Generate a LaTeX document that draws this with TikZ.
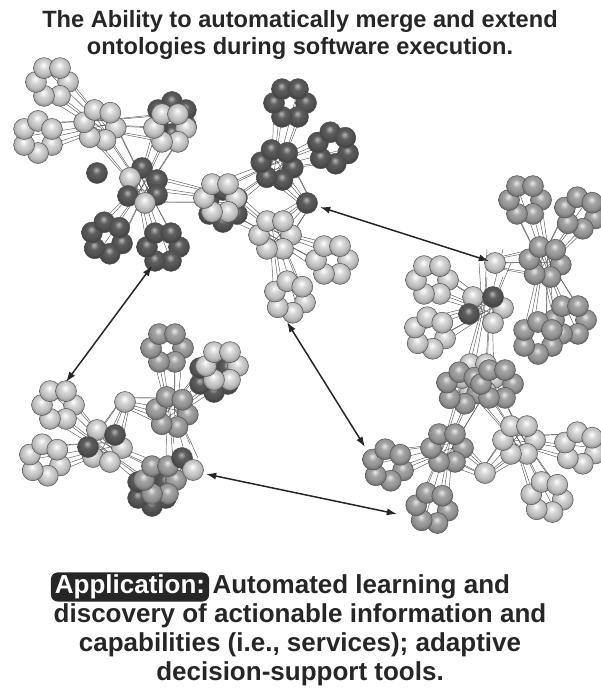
\documentclass[tikz,border=0pt]{standalone}
\usepackage{fontspec}
\setmainfont{Liberation Sans}
\usetikzlibrary{arrows.meta,calc,positioning}
\definecolor{OntoInk}{HTML}{262626}
\definecolor{OntoEdge}{HTML}{555555}
\definecolor{OntoLink}{HTML}{5A5A5A}
\definecolor{OntoLight}{HTML}{D6D6D6}
\definecolor{OntoMid}{HTML}{A4A4A4}
\definecolor{OntoDark}{HTML}{5E5E5E}
\pgfdeclareradialshading{orbLight}{\pgfpoint{-2bp}{8bp}}{color(0bp)=(white);
  color(10bp)=(OntoLight); color(20bp)=(OntoLight!88!black); color(26bp)=(OntoLight!72!black);
  color(50bp)=(OntoLight!72!black)}
\pgfdeclareradialshading{orbMid}{\pgfpoint{-2bp}{8bp}}{color(0bp)=(OntoMid!25!white);
  color(10bp)=(OntoMid); color(20bp)=(OntoMid!88!black); color(26bp)=(OntoMid!70!black);
  color(50bp)=(OntoMid!70!black)}
\pgfdeclareradialshading{orbDark}{\pgfpoint{-2bp}{8bp}}{color(0bp)=(OntoDark!45!white);
  color(10bp)=(OntoDark); color(20bp)=(OntoDark!85!black); color(26bp)=(OntoDark!70!black);
  color(50bp)=(OntoDark!70!black)}
\tikzset{
  >=Latex,
  orb/.style={draw=OntoEdge,line width=0.5pt},
  link/.style={draw=OntoLink,line width=0.45pt},
  merge/.style={{Latex[length=3.6mm,width=2.5mm]}-{Latex[length=3.6mm,width=2.5mm]},
    line width=1.5pt,draw=OntoInk},
  headline/.style={font=\bfseries\fontsize{23.6}{27}\selectfont,text=OntoInk,align=center},
  tagbox/.style={fill=OntoInk,text=white,rounded corners=7pt,inner xsep=4pt,inner ysep=2.5pt,
    font=\bfseries\fontsize{26}{29}\selectfont},
  bodytext/.style={font=\bfseries\fontsize{26}{29}\selectfont,text=OntoInk,align=center,inner sep=0pt}
}
\newcommand\orbradius{10.5}
\newcommand\ringradius{16}

\begin{document}
\begin{tikzpicture}[x=1pt,y=-1pt]
  \useasboundingbox (0,0) rectangle (600,695);

  % ring centres and hub spheres
  \foreach \n/\x/\y in {a1/52/82, a2/38/137, a3/100/125, a4/170/128, a4d/172/118, a5/107/238,
      a6/163/247, hA/142/188, a7/220/198, a7d/223/206, a8/277/165, a9/290/103, a10/333/148,
      pA/307/203, a11/275/235, a12/332/260, a13/290/297,
      b1/525/200, b2/580/213, b3/545/262, hB/495/263, cB/487/308, b4/432/280, b5/430/333,
      b6/570/320, b7/538/338,
      c1/478/378, c1a/462/388, c1b/497/384, c2/447/448, c3/388/465, c4/432/508, hC/485/473,
      c5/519/440, c6/580/448, c7/547/497,
      d1/167/348, d2/222/366, d2d/214/376, d3/172/412, hD/125/402, cD/105/447, d4/58/405,
      d5/45/460, dd/182/458, d6/160/480, d6d/152/490}
    \coordinate (\n) at (\x,\y);

  % links between rings
  \foreach \r/\h in {a1/a3, a2/a3, a3/hA, a4/a3, a4/hA, a5/hA, a6/hA, hA/a7, a7/a8, a7/a11,
      a9/a8, a10/a8, a8/pA, a11/pA, a12/a11, a13/a11,
      b1/b3, b2/b3, b3/hB, b6/b3, b7/b3, hB/cB, b4/cB, b5/cB, c1/cB,
      c1/c2, c1/c5, c3/c2, c4/c2, c2/hC, c5/hC, c6/c5, c7/c5,
      d1/d3, d2/d3, d3/hD, cD/hD, d4/cD, d5/cD, dd/d3, d6/cD, d6/dd}
    \foreach \k in {0,...,5}
      \draw[link] ($(\r)+(60*\k:\ringradius)$) -- ($(\h)+(60*\k:5)$);

  % rings of spheres
  \foreach \r/\c/\s in {a1/orbLight/0, a2/orbLight/30, a3/orbLight/10, a4d/orbDark/30,
      a4/orbLight/0, a5/orbDark/20, a6/orbDark/0, a7d/orbDark/30, a7/orbLight/0,
      a9/orbDark/0, a10/orbDark/20, a8/orbDark/10, a12/orbLight/0, a13/orbLight/20,
      a11/orbLight/0,
      b1/orbMid/0, b2/orbMid/20, b3/orbMid/10, b4/orbLight/0, b5/orbLight/20,
      b6/orbMid/0, b7/orbMid/30,
      c1/orbLight/0, c1a/orbMid/20, c1b/orbMid/0, c2/orbMid/0, c3/orbMid/20,
      c4/orbMid/10, c5/orbLight/0, c6/orbLight/20, c7/orbLight/10,
      d1/orbMid/0, d2d/orbDark/30, d2/orbLight/0, d3/orbMid/10, d4/orbLight/0,
      d5/orbLight/20, d6d/orbDark/30, d6/orbMid/0}
    \foreach \k in {0,...,5}
      \shadedraw[orb,shading=\c] ($(\r)+(\s+60*\k:\ringradius)$) circle (\orbradius);

  % single spheres
  \foreach \x/\y/\c in {97/173/orbDark, 142/168/orbDark, 130/178/orbLight, 157/180/orbDark,
      128/196/orbDark, 157/195/orbDark, 145/203/orbLight, 307/203/orbDark,
      495/263/orbLight, 473/297/orbLight, 503/308/orbLight, 493/297/orbDark,
      469/314/orbDark, 493/323/orbLight, 485/473/orbLight,
      125/402/orbLight, 97/430/orbLight, 122/448/orbLight, 93/457/orbLight,
      88/447/orbDark, 115/435/orbDark, 110/462/orbLight, 182/458/orbDark, 193/470/orbLight}
    \shadedraw[orb,shading=\c] (\x,\y) circle (\orbradius);

  % merge arrows
  \coordinate (mA1) at (152,266);
  \coordinate (mD1) at (66,382);
  \coordinate (mA2) at (320,207);
  \coordinate (mB2) at (489,261);
  \coordinate (mA3) at (287,322);
  \coordinate (mC3) at (365,447);
  \coordinate (mD4) at (206,474);
  \coordinate (mC4) at (397,514);
  \draw[merge] (mA1) -- (mD1);
  \draw[merge] (mA2) -- (mB2);
  \draw[merge] (mA3) -- (mC3);
  \draw[merge] (mD4) -- (mC4);

  % captions
  \node[headline] (title) at (300,35) {The Ability to automatically merge and extend\\ontologies during software execution.};
  \node[tagbox] (apptag) at (130,587) {Application:};
  \node[bodytext,right=3pt of apptag] (appfirst) {Automated learning and};
  \node[bodytext,anchor=north] (apprest) at (300,603) {discovery of actionable information and\\capabilities (i.e., services); adaptive\\decision-support tools.};
\end{tikzpicture}
\end{document}
